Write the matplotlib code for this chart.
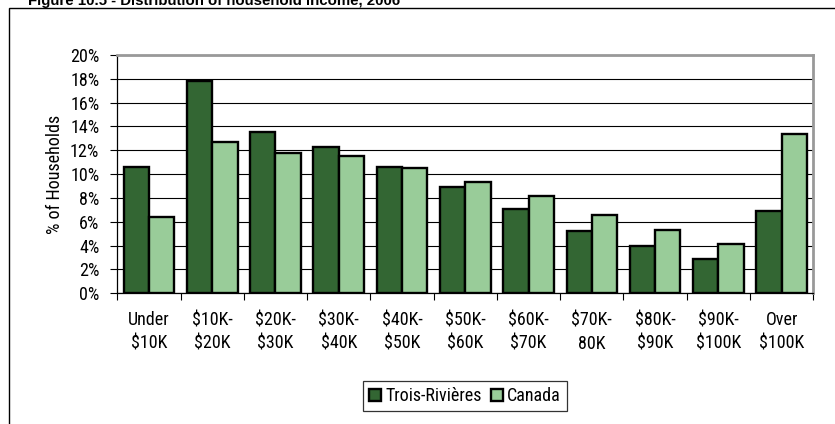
import matplotlib
matplotlib.use("Agg")
import matplotlib.pyplot as plt
from matplotlib.patches import Rectangle, Patch
import numpy as np

plt.rcParams['font.family'] = ['Roboto Condensed', 'Liberation Sans', 'DejaVu Sans']

categories = ["Under\n$10K", "$10K-\n$20K", "$20K-\n$30K", "$30K-\n$40K", "$40K-\n$50K",
              "$50K-\n$60K", "$60K-\n$70K", "$70K-\n80K", "$80K-\n$90K", "$90K-\n$100K",
              "Over\n$100K"]
trois_rivieres = [10.6, 17.8, 13.5, 12.3, 10.6, 8.9, 7.1, 5.2, 4.0, 2.9, 6.9]
canada = [6.4, 12.7, 11.8, 11.5, 10.5, 9.3, 8.2, 6.6, 5.3, 4.1, 13.4]
series_names = ["Trois-Rivières", "Canada"]
yticks = [0, 2, 4, 6, 8, 10, 12, 14, 16, 18, 20]
title = "Figure 10.5 - Distribution of household income, 2006"

dark = "#336633"
light = "#99CC99"
FS = 13

W, H = 835, 424
fig = plt.figure(figsize=(W / 100, H / 100), dpi=100)

# outer chart frame (cropped on right and bottom)
fig.patches.append(Rectangle((9 / W, -0.1), 1.2, 1 - 8.5 / H + 0.1, transform=fig.transFigure,
                             fill=False, edgecolor="black", linewidth=1.0, zorder=0))
fig.text(28 / W, 1 - 5.5 / H, title, fontsize=10.8, fontweight="bold",
         family=["Liberation Sans", "DejaVu Sans"], ha="left", va="baseline")

ax = fig.add_axes([117.3 / W, 1 - 293.3 / H, (813.3 - 117.3) / W, (293.3 - 55) / H])
n = len(categories)
x = np.arange(n)
ax.bar(x + 0.3, trois_rivieres, width=0.4, color=dark, edgecolor="black", linewidth=1.7,
       zorder=3, label=series_names[0])
ax.bar(x + 0.7, canada, width=0.4, color=light, edgecolor="black", linewidth=1.7,
       zorder=3, label=series_names[1])

ax.set_xlim(0, n)
ax.set_ylim(0, 20)
ax.set_yticks(yticks)
ax.set_yticklabels([f"{v}%" for v in yticks], fontsize=FS)
ax.yaxis.grid(True, color="black", linewidth=0.8, zorder=0)
ax.set_axisbelow(True)

ax.set_xticks(np.arange(n + 1))
ax.set_xticklabels([])
ax.set_xticks(x + 0.5, minor=True)
ax.set_xticklabels(categories, minor=True, fontsize=FS, linespacing=1.4)
ax.tick_params(axis="x", which="major", direction="out", length=5, width=0.8, color="black")
ax.tick_params(axis="x", which="minor", length=0, pad=13)
ax.tick_params(axis="y", direction="out", length=5, width=0.8, pad=8)

for s in ["left", "bottom"]:
    ax.spines[s].set_color("black")
    ax.spines[s].set_linewidth(0.9)
for s in ["top", "right"]:
    ax.spines[s].set_color("#999999")
    ax.spines[s].set_linewidth(2.0)

ax.set_ylabel("% of Households", fontsize=FS, labelpad=4)

handles = [Patch(facecolor=dark, edgecolor="black", linewidth=1.7, label=series_names[0]),
           Patch(facecolor=light, edgecolor="black", linewidth=1.7, label=series_names[1])]
leg = fig.legend(handles=handles, loc="center", bbox_to_anchor=(465 / W, 1 - 396 / H),
                 ncol=2, fontsize=FS, frameon=True, fancybox=False, edgecolor="black",
                 handlelength=0.65, handleheight=0.65, handletextpad=0.25, columnspacing=0.5,
                 borderpad=0.35)
leg.get_frame().set_linewidth(0.9)

fig.savefig("out.png", dpi=100)
